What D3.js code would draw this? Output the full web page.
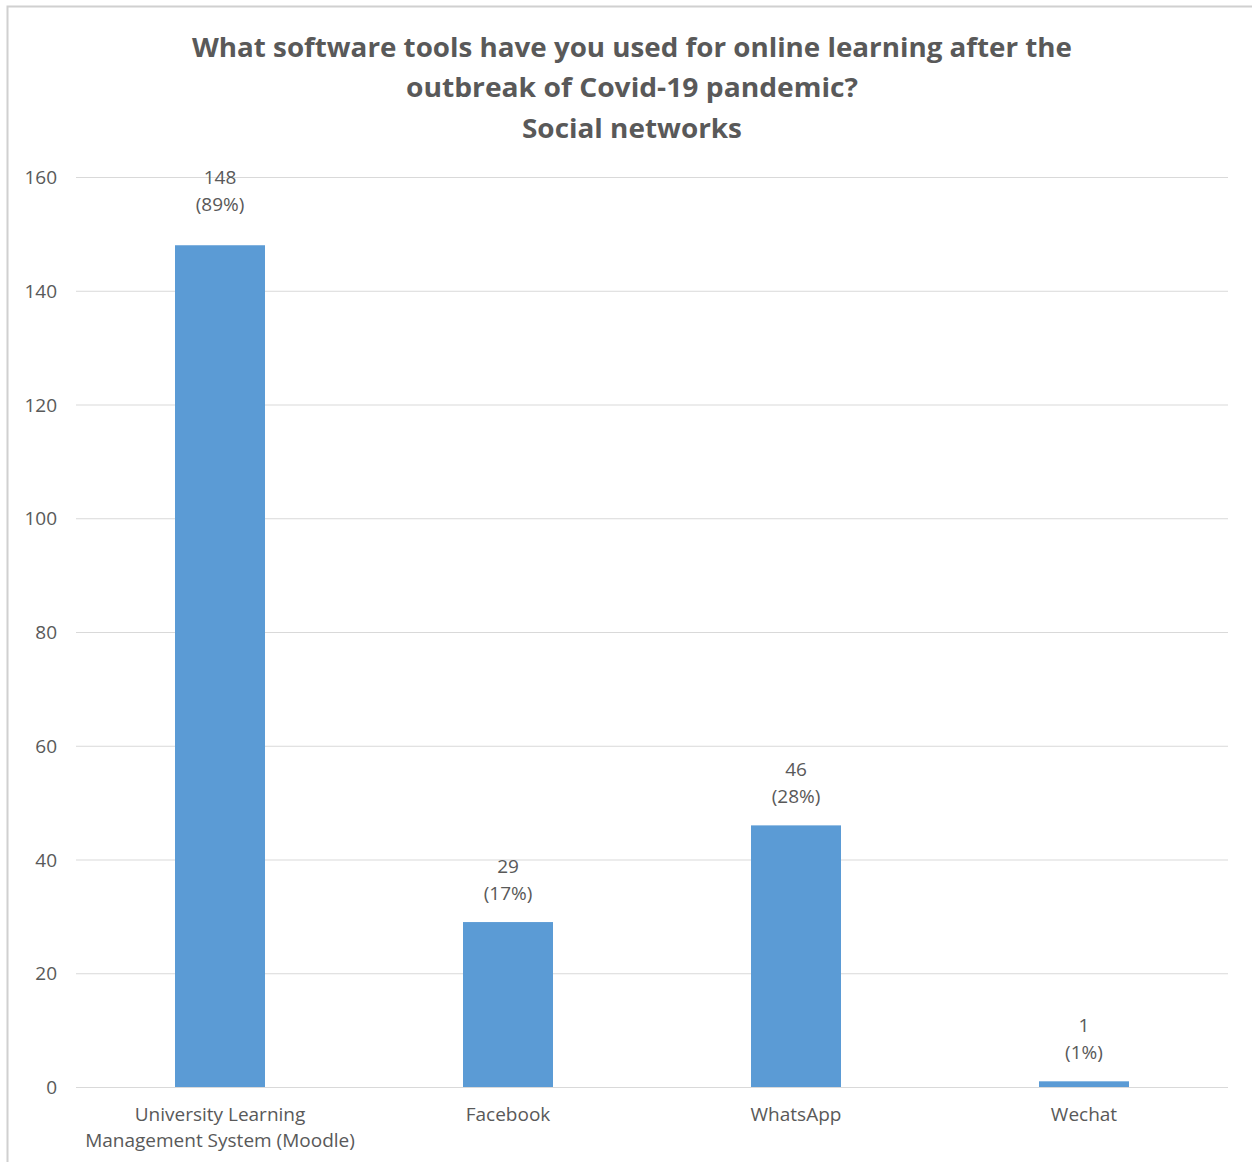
<!DOCTYPE html>
<html>
<head>
<meta charset="utf-8">
<script src="https://cdn.jsdelivr.net/npm/d3@7"></script>
<style>
  html, body { margin: 0; padding: 0; background: #fff; }
  svg { display: block; }
</style>
</head>
<body>
<script>
const titleLines = [
  "What software tools have you used for online learning after the",
  "outbreak of Covid-19 pandemic?",
  "Social networks"
];
const categories = [
  ["University Learning", "Management System (Moodle)"],
  ["Facebook"],
  ["WhatsApp"],
  ["Wechat"]
];
const values = [148, 29, 46, 1];
const percents = ["(89%)", "(17%)", "(28%)", "(1%)"];
const yTicks = [0, 20, 40, 60, 80, 100, 120, 140, 160];

(function () {
const W = 1252, H = 1162;
const svg = d3.select("body").append("svg").attr("width", W).attr("height", H);

// outer chart border (extends past right/bottom edges)
svg.append("rect").attr("x", 7.5).attr("y", 6.5).attr("width", W).attr("height", H)
  .attr("fill", "#fff").attr("stroke", "#D0D0D0").attr("stroke-width", 2);

const font = "'Open Sans', 'Noto Sans', sans-serif";
const textColor = "#595959";
const fs = 19;

// title
const titleY = [57, 97, 138];
const titleW = [880, 452, 220];
titleLines.forEach((t, i) => {
  svg.append("text").attr("x", 632).attr("y", titleY[i])
    .attr("text-anchor", "middle")
    .attr("font-family", font).attr("font-weight", "bold")
    .attr("font-size", 27).attr("fill", textColor)
    .attr("textLength", titleW[i]).attr("lengthAdjust", "spacingAndGlyphs")
    .text(t);
});

const pL = 76, pR = 1228, pT = 177, pB = 1087;
const idx = categories.map((c, i) => i);
const x = d3.scaleBand().domain(idx).range([pL, pR]).paddingInner(0.6875).paddingOuter(0.34375);
const y = d3.scaleLinear().domain([0, 160]).range([pB, pT]);

// gridlines
svg.append("g").selectAll("line").data(yTicks).join("line")
  .attr("x1", pL).attr("x2", pR)
  .attr("y1", d => y(d) + 0.5).attr("y2", d => y(d) + 0.5)
  .attr("stroke", "#D9D9D9").attr("stroke-width", 1);

// y axis labels
const yAxis = d3.axisLeft(y).tickValues(yTicks).tickSize(0).tickPadding(19);
const gy = svg.append("g").attr("transform", `translate(${pL},0)`).call(yAxis);
gy.select(".domain").remove();
gy.selectAll("text").attr("font-family", font).attr("font-size", fs).attr("fill", textColor)
  .attr("dy", "0.35em");

// bars
svg.append("g").selectAll("rect").data(values).join("rect")
  .attr("x", (d, i) => x(i)).attr("width", x.bandwidth())
  .attr("y", d => y(d)).attr("height", d => pB - y(d))
  .attr("fill", "#5B9BD5");

// baseline
svg.append("line").attr("x1", pL).attr("x2", pR)
  .attr("y1", pB + 0.5).attr("y2", pB + 0.5)
  .attr("stroke", "#D9D9D9").attr("stroke-width", 1);

// data labels
const lbl = svg.append("g").attr("font-family", font).attr("font-size", fs)
  .attr("fill", textColor).attr("text-anchor", "middle");
values.forEach((v, i) => {
  const cx = x(i) + x.bandwidth() / 2;
  const lift = y(v) < pT + 80 ? 12 : 0;
  lbl.append("text").attr("x", cx).attr("y", y(v) - 49 - lift).text(v);
  lbl.append("text").attr("x", cx).attr("y", y(v) - 22 - lift).text(percents[i]);
});

// category labels
const cat = svg.append("g").attr("font-family", font).attr("font-size", fs)
  .attr("fill", textColor).attr("text-anchor", "middle");
categories.forEach((lines, i) => {
  const cx = x(i) + x.bandwidth() / 2;
  lines.forEach((l, j) => {
    cat.append("text").attr("x", cx).attr("y", 1121 + j * 26).text(l);
  });
});
})();
</script>
</body>
</html>
